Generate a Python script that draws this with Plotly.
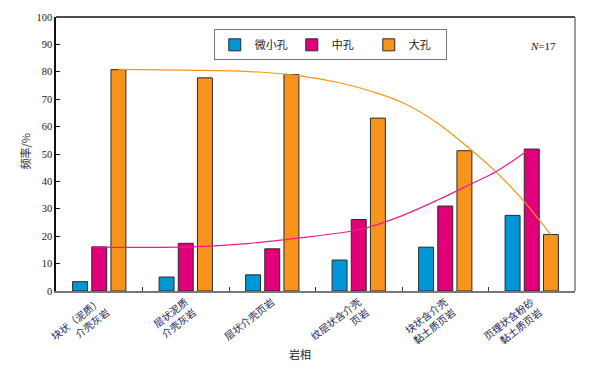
import plotly.graph_objects as go

categories = ["块状（泥质）<br>介壳灰岩", "层状泥质<br>介壳灰岩", "层状介壳页岩",
              "纹层状含介壳<br>页岩", "块状含介壳<br>黏土质页岩", "页理状含粉砂<br>黏土质页岩"]
micro = [3.4, 5.1, 5.9, 11.3, 16.0, 27.6]
meso = [16.1, 17.4, 15.4, 26.1, 31.0, 51.8]
macro = [80.8, 77.8, 79.0, 63.1, 51.2, 20.6]

# trend curves (x in category index units)
meso_curve_x = [-0.08, 0.36, 1.13, 1.74, 2.32, 2.93, 3.13, 3.51, 3.90, 4.28, 4.59, 4.94]
meso_curve_y = [16.1, 15.9, 16.2, 17.4, 19.4, 21.9, 23.4, 27.6, 33.0, 38.8, 43.6, 51.0]
macro_curve_x = [0.22, 0.97, 1.74, 2.30, 2.78, 3.13, 3.51, 3.90, 4.31, 4.59, 4.90, 5.22]
macro_curve_y = [80.9, 80.6, 80.1, 78.6, 76.0, 73.0, 68.7, 61.5, 51.2, 43.4, 33.1, 20.6]

names = ["微小孔", "中孔", "大孔"]
colors = ["#0096d6", "#e2007a", "#f7941d"]

xs = list(range(len(categories)))
fig = go.Figure()
for nm, vals, c in zip(names, [micro, meso, macro], colors):
    fig.add_trace(go.Bar(x=xs, y=vals, name=nm, marker=dict(color=c, line=dict(color="#2a2a2a", width=1))))

fig.add_trace(go.Scatter(x=macro_curve_x, y=macro_curve_y, mode="lines", line=dict(color="#f7941d", width=1.2, shape="spline"), showlegend=False, hoverinfo="skip"))
fig.add_trace(go.Scatter(x=meso_curve_x, y=meso_curve_y, mode="lines", line=dict(color="#ec1c8c", width=1.2, shape="spline"), showlegend=False, hoverinfo="skip"))

font_stack = "Liberation Serif, Noto Sans CJK SC"
fig.update_layout(
    width=590, height=369,
    margin=dict(l=56, r=15, t=15, b=78),
    paper_bgcolor="white", plot_bgcolor="white",
    barmode="group", bargap=0.335, bargroupgap=0.22,
    font=dict(family=font_stack, size=10, color="#1a1a1a"),
    legend=dict(orientation="h", x=0.304, y=0.955, xanchor="left", yanchor="top",
                bordercolor="#777", borderwidth=1, bgcolor="white",
                font=dict(size=11, family="Noto Sans CJK SC"), entrywidth=32,
                itemwidth=30, tracegroupgap=0),
    showlegend=True,
)
fig.update_xaxes(range=[-0.5, 5.5], tickmode="array", tickvals=xs, ticktext=categories,
                 tickangle=-38, ticks="", showline=True, linecolor="#777", linewidth=1.5,
                 showgrid=False, zeroline=False, tickfont=dict(size=10, family="Noto Sans CJK SC", color="#1a1a50"),
                 minor=dict(tickvals=[0.5, 1.5, 2.5, 3.5, 4.5], ticks="inside", ticklen=4, tickcolor="#333"))
fig.update_yaxes(range=[0, 100], tickvals=list(range(0, 101, 10)), ticks="inside", ticklen=4,
                 tickcolor="#111", showline=True, linecolor="#111", linewidth=1.5, showgrid=False,
                 zeroline=False, tickfont=dict(size=10.5, family="Liberation Serif"))
# frame: top black, right gray
fig.add_shape(type="line", xref="paper", yref="paper", x0=0, x1=1, y0=1, y1=1, line=dict(color="#111", width=1.5))
fig.add_shape(type="line", xref="paper", yref="paper", x0=1, x1=1, y0=0, y1=1, line=dict(color="#777", width=1.5))

fig.add_annotation(text="频率/%", xref="paper", yref="paper", x=-0.04, y=0.51, textangle=-90,
                   showarrow=False, font=dict(size=11, family="Noto Sans CJK SC", color="#333"), xanchor="right")
fig.add_annotation(text="岩相", xref="paper", yref="paper", x=0.47, y=-0.195, yanchor="top",
                   showarrow=False, font=dict(size=11, family="Noto Sans CJK SC", color="#222"))
fig.add_annotation(text="<i>N</i>=17", xref="paper", yref="paper", x=0.968, y=0.925, xanchor="right",
                   showarrow=False, font=dict(size=11, family="Liberation Serif", color="#111"))

fig.write_html("out.html", config={"displayModeBar": False},
               post_script="document.body.style.margin='0px';")
